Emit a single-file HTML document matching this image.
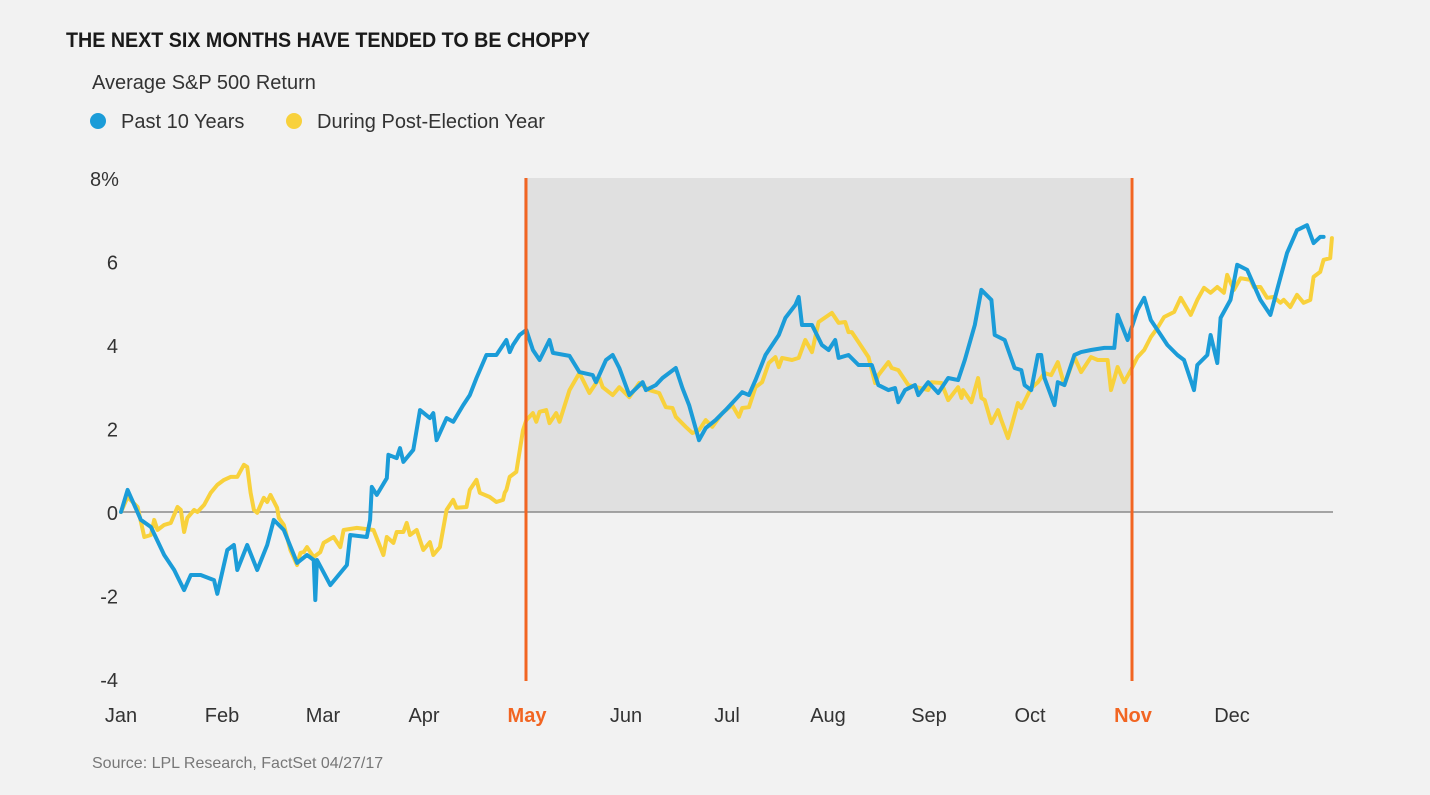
<!DOCTYPE html>
<html><head><meta charset="utf-8"><style>
html,body{margin:0;padding:0;background:#f2f2f2;}
body{width:1430px;height:795px;overflow:hidden;position:relative;font-family:"Liberation Sans Narrow","Liberation Sans",sans-serif;}
svg{position:absolute;left:0;top:0;}
</style></head><body>
<svg id="chart" width="1430" height="795" viewBox="0 0 1430 795">
<rect x="0" y="0" width="1430" height="795" fill="#f2f2f2"/>
<text x="66" y="47" font-size="21" font-weight="bold" fill="#1a1a1a" textLength="524" lengthAdjust="spacingAndGlyphs">THE NEXT SIX MONTHS HAVE TENDED TO BE CHOPPY</text>
<text x="92" y="89" font-size="20" fill="#333">Average S&amp;P 500 Return</text>
<g>
<circle cx="98" cy="121" r="8" fill="#1b9cd8"/>
<text x="121" y="128" font-size="20" fill="#333">Past 10 Years</text>
<circle cx="294" cy="121" r="8" fill="#f8d13c"/>
<text x="317" y="128" font-size="20" fill="#333">During Post-Election Year</text>
</g>
<g id="plot"></g>
<text x="92" y="768" font-size="16" fill="#777">Source: LPL Research, FactSet  04/27/17</text>
</svg>
<script>
const monthLabels=["Jan","Feb","Mar","Apr","May","Jun","Jul","Aug","Sep","Oct","Nov","Dec"];
const highlightMonths=[4,10];
const yTicks=[8,6,4,2,0,-2,-4];
const yTickLabels=["8%","6","4","2","0","-2","-4"];
const blueDays=[0,2,6,9,13,16,19,21,24,28,29,32,34,35,38,41,44,46,49,53,56,58,58.5,59,63,68,69,74,75,75.5,77,80,80.5,83,84,85,88,90,93,94,95,98,100,103,105,107,110,113,116,117,118,120,122,124,126,129,130,135,138,142,143,146,148,150,153,157,158,161,163,167,169,171,174,176,179,182,187,189,191,194,198,200,203,204,205,208,211,213,215,216,219,222,226,228,231,233,234,236,239,240,243,246,249,252,254,257,259,262,263,266,269,271,272,274,276,277,278,281,282,284,287,289,292,296,299,300,303,306,308,310,313,315,318,320,323,324,327,328,330,331,334,336,339,341,343,346,348,351,354,357,359,361,362];
const blueVals=[0,0.53,-0.19,-0.36,-1.03,-1.39,-1.87,-1.51,-1.51,-1.63,-1.96,-0.91,-0.79,-1.39,-0.79,-1.39,-0.79,-0.19,-0.43,-1.22,-1.03,-1.15,-2.11,-1.15,-1.75,-1.27,-0.55,-0.6,-0.19,0.6,0.41,0.81,1.37,1.29,1.53,1.2,1.49,2.44,2.25,2.37,1.72,2.25,2.16,2.56,2.8,3.21,3.76,3.76,4.12,3.83,4.0,4.24,4.36,3.88,3.64,4.12,3.81,3.74,3.35,3.28,3.11,3.64,3.76,3.45,2.8,3.11,2.92,3.04,3.21,3.45,2.97,2.56,1.72,2.01,2.2,2.44,2.87,2.8,3.16,3.76,4.24,4.65,4.96,5.15,4.48,4.48,4.0,3.88,4.12,3.69,3.76,3.52,3.52,3.04,2.92,2.97,2.63,2.92,3.04,2.8,3.11,2.85,3.21,3.16,3.64,4.48,5.32,5.08,4.24,4.12,3.45,3.4,3.04,2.92,3.76,3.76,3.21,2.56,3.11,3.04,3.76,3.83,3.88,3.93,3.93,4.72,4.12,4.84,5.13,4.6,4.24,4.0,3.76,3.64,2.92,3.52,3.76,4.24,3.57,4.65,5.08,5.92,5.8,5.44,5.08,4.72,5.32,6.2,6.75,6.87,6.44,6.59,6.59];
const yellowDays=[0,2,5,7,9,10,11,13,15,17,18,19,20,22,23,25,27,29,31,33,35,37,38,39,40,41,43,44,45,47,47.5,49,51,53,54,55,56,58,60,61,64,66,67,71,76,79,80,82,83,85,86,87,89,91,93,94,96,98,100,101,104,105,107,108,111,113,115,115.5,116,117,119,121,122,124,125,126,128,129,131,132,135,138,141,144,145,148,150,153,156,159,162,164,166,167,170,172,174,176,178,181,184,186,187,189,191,193,195,197,198,199,202,204,206,208,210,214,216,218,219,220,222,225,227,228,231,232,234,237,243,244,247,249,252,253,253.5,256,258,259,260,262,264,265,267,268,270,271,274,276,278,280,282,284,287,289,292,294,297,298,300,302,304,306,308,310,312,314,317,319,322,324,326,328,330,332,333,335,337,340,341,343,345,347,349,350,352,354,356,358,359,361,362,364,364.5];
const yellowVals=[0,0.36,0.12,-0.6,-0.55,-0.19,-0.43,-0.31,-0.26,0.12,0.05,-0.48,-0.14,0.05,0,0.17,0.46,0.65,0.77,0.84,0.84,1.13,1.08,0.46,0.05,-0.02,0.34,0.24,0.41,0.1,-0.14,-0.31,-0.91,-1.27,-0.98,-0.96,-0.84,-1.08,-0.96,-0.74,-0.6,-0.84,-0.43,-0.38,-0.43,-1.03,-0.6,-0.74,-0.48,-0.48,-0.26,-0.55,-0.43,-0.91,-0.72,-1.03,-0.84,0.05,0.29,0.1,0.12,0.53,0.77,0.46,0.36,0.24,0.29,0.46,0.53,0.84,0.96,1.96,2.2,2.37,2.16,2.4,2.44,2.13,2.37,2.16,2.92,3.33,2.85,3.21,2.99,2.8,2.99,2.75,3.09,2.92,2.85,2.51,2.49,2.28,2.04,1.89,1.96,2.2,2.04,2.37,2.56,2.28,2.49,2.51,2.99,3.11,3.57,3.71,3.47,3.69,3.64,3.69,4.12,3.83,4.55,4.77,4.53,4.55,4.31,4.31,4.07,3.71,3.09,3.28,3.59,3.45,3.4,3.04,2.92,3.11,3.09,2.68,2.99,2.73,2.92,2.63,3.21,2.73,2.68,2.13,2.44,2.2,1.77,2.04,2.61,2.49,2.97,3.11,3.33,3.28,3.59,3.04,3.71,3.35,3.71,3.64,3.64,2.92,3.47,3.11,3.4,3.71,3.88,4.19,4.41,4.67,4.79,5.13,4.72,5.08,5.37,5.25,5.39,5.25,5.68,5.32,5.6,5.56,5.39,5.39,5.13,5.15,5.01,5.08,4.91,5.2,5.01,5.08,5.63,5.75,6.04,6.08,6.56];

const NS="http://www.w3.org/2000/svg";
const plot=document.getElementById('plot');
const xDay=d=>121+d*3.322;
const xMonth=m=>121+m*101;
const yVal=v=>512-v*41.75;
function mk(tag,attrs){const e=document.createElementNS(NS,tag);for(const k in attrs)e.setAttribute(k,attrs[k]);plot.appendChild(e);return e;}

const shade=mk('rect',{x:xMonth(highlightMonths[0])-1,y:yVal(8),width:xMonth(highlightMonths[1])-xMonth(highlightMonths[0]),height:yVal(0)-yVal(8),fill:'#e0e0e0'});



yTicks.forEach((t,i)=>{
  const tx=mk('text',{x:t===8?90:118,y:yVal(t)+8,'font-size':20,fill:'#333','text-anchor':t===8?'start':'end'});
  tx.textContent=yTickLabels[i];
  
  
});
const zl=mk('line',{x1:121,x2:1333,y1:yVal(0),y2:yVal(0),stroke:'#8a8a8a','stroke-width':1.5});



monthLabels.forEach((m,i)=>{
  const hl=highlightMonths.includes(i);
  const tx=mk('text',{x:xMonth(i)+(hl?2:0),y:722,'font-size':20,fill:hl?'#f26522':'#333','font-weight':hl?'bold':'normal','text-anchor':'middle'});
  tx.textContent=m;
  
  
});

function series(days,vals,color,name){
  const d=days.map((dd,i)=>(i?'L':'M')+xDay(dd).toFixed(1)+','+yVal(vals[i]).toFixed(1)).join('');
  const p=mk('path',{d:d,fill:'none',stroke:color,'stroke-width':4,'stroke-linejoin':'round','stroke-linecap':'round'});
  
  
}
series(yellowDays,yellowVals,'#f8d13c','line-post-election-year');
series(blueDays,blueVals,'#1b9cd8','line-past-10-years');

highlightMonths.forEach(m=>{
  const l=mk('line',{x1:xMonth(m)+1,x2:xMonth(m)+1,y1:yVal(8),y2:681,stroke:'#f26522','stroke-width':3});
  
  
});
</script>
</body></html>
